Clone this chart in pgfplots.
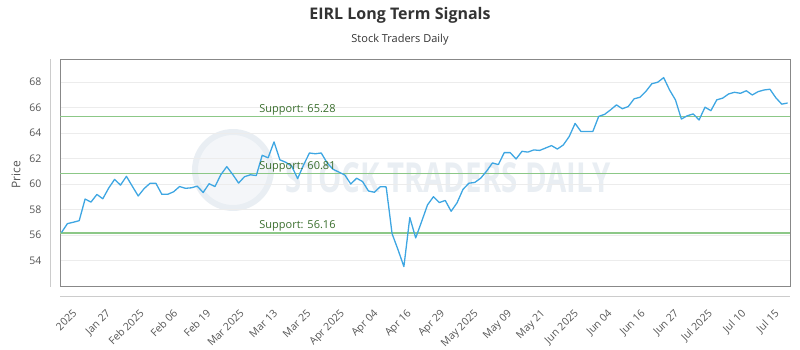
\documentclass[border=0pt]{standalone}
\usepackage{fontspec}
\setmainfont{Open Sans}
\usepackage{graphicx}
\usepackage{pgfplots}
\usepackage{pgfplotstable}
\pgfplotsset{compat=1.18}

\definecolor{priceblue}{RGB}{62,166,226}
\definecolor{supgreen}{RGB}{140,200,135}
\definecolor{suptext}{RGB}{58,110,45}
\definecolor{gridgray}{RGB}{236,236,236}
\definecolor{framegray}{RGB}{136,136,136}
\definecolor{axisgray}{RGB}{204,204,204}
\definecolor{ticktext}{RGB}{85,85,85}
\definecolor{titletext}{RGB}{51,51,51}
\definecolor{wmark}{RGB}{233,238,243}

% daily closes, one row per trading day
\pgfplotstableread{
idx price
0 56.19
1 56.89
2 57.00
3 57.12
4 58.82
5 58.58
6 59.18
7 58.84
8 59.68
9 60.36
10 59.91
11 60.60
12 59.82
13 59.06
14 59.64
15 60.05
16 60.05
17 59.19
18 59.19
19 59.39
20 59.80
21 59.66
22 59.70
23 59.83
24 59.33
25 60.02
26 59.80
27 60.73
28 61.36
29 60.75
30 60.07
31 60.57
32 60.72
33 60.66
34 62.25
35 62.05
36 63.30
37 61.89
38 61.70
39 61.40
40 60.42
41 61.48
42 62.43
43 62.37
44 62.43
45 61.65
46 61.15
47 60.93
48 60.70
49 60.00
50 60.45
51 60.19
52 59.45
53 59.35
54 59.79
55 59.77
56 56.10
57 54.85
58 53.52
59 57.37
60 55.77
61 57.05
62 58.36
63 59.00
64 58.54
65 58.71
66 57.86
67 58.52
68 59.57
69 60.06
70 60.12
71 60.45
72 61.00
73 61.65
74 61.52
75 62.46
76 62.46
77 61.96
78 62.56
79 62.50
80 62.67
81 62.63
82 62.82
83 63.01
84 62.74
85 63.06
86 63.72
87 64.75
88 64.11
89 64.11
90 64.11
91 65.30
92 65.46
93 65.81
94 66.20
95 65.90
96 66.07
97 66.68
98 66.80
99 67.27
100 67.86
101 67.98
102 68.34
103 67.37
104 66.59
105 65.09
106 65.35
107 65.49
108 65.02
109 66.02
110 65.75
111 66.60
112 66.73
113 67.06
114 67.19
115 67.11
116 67.31
117 66.98
118 67.24
119 67.37
120 67.43
121 66.76
122 66.26
123 66.35
}\pricedata

\begin{document}
\begin{tikzpicture}
\useasboundingbox (0,0) rectangle (800pt,350pt);

% faint watermark behind the plot
\fill[wmark, opacity=0.5] (233pt,180pt) circle (40pt);
\draw[wmark, line width=6pt] (233pt,180pt) circle (38pt);
\node[text=wmark, inner sep=0pt] at (448pt,172pt)
  {\resizebox{325pt}{30pt}{\bfseries STOCK TRADERS DAILY}};

\begin{axis}[
    at={(60pt,64pt)}, anchor=south west,
    scale only axis,
    width=730pt, height=227pt,
    xmin=-0.25, xmax=123.4,
    ymin=52, ymax=69.8,
    ytick={54,56,...,68},
    xtick={3.32,8.98,14.65,20.31,25.97,31.63,37.29,42.95,48.62,54.28,59.94,
           65.60,71.26,76.93,82.59,88.25,93.91,99.57,105.24,110.90,116.56,122.22},
    xticklabels={2025, Jan 27, Feb 2025, Feb 06, Feb 19, Mar 2025, Mar 13, Mar 25,
                 Apr 2025, Apr 04, Apr 16, Apr 29, May 2025, May 09, May 21,
                 Jun 2025, Jun 04, Jun 16, Jun 27, Jul 2025, Jul 10, Jul 15},
    major tick length=0pt,
    ymajorgrids=true,
    major grid style={gridgray, line width=0.6pt},
    axis line style={framegray, line width=0.7pt},
    /pgf/number format/assume math mode=true,
    tick label style={text=ticktext, font=\fontsize{10.5}{12}\selectfont},
    yticklabel style={xshift=-15pt},
    xticklabel style={xshift=-9pt, yshift=-21pt, rotate=45, anchor=north east, inner sep=1pt},
]
\addplot[supgreen, line width=1.6pt] coordinates {(-0.25,65.28) (123.4,65.28)};
\addplot[supgreen, line width=1.6pt] coordinates {(-0.25,60.81) (123.4,60.81)};
\addplot[supgreen, line width=1.6pt] coordinates {(-0.25,56.16) (123.4,56.16)};

\addplot[priceblue, line width=1.3pt, line join=round] table[x=idx, y=price]{\pricedata};

\node[suptext, anchor=base west, inner sep=0pt, yshift=4.5pt,
      font=\fontsize{11}{13}\selectfont] at (axis cs:33.5,65.28) {Support: 65.28};
\node[suptext, anchor=base west, inner sep=0pt, yshift=4.5pt,
      font=\fontsize{11}{13}\selectfont] at (axis cs:33.5,60.81) {Support: 60.81};
\node[suptext, anchor=base west, inner sep=0pt, yshift=4.5pt,
      font=\fontsize{11}{13}\selectfont] at (axis cs:33.5,56.16) {Support: 56.16};
\end{axis}

% offset outer axis lines
\draw[axisgray, line width=0.7pt] (50pt,63pt) -- (50pt,291pt);
\draw[axisgray, line width=0.7pt] (60pt,54pt) -- (790pt,54pt);

\node[text=titletext, font=\bfseries\fontsize{16}{19}\selectfont] at (400pt,335pt) {EIRL Long Term Signals};
\node[text=titletext, font=\fontsize{11}{13}\selectfont] at (400pt,310pt) {Stock Traders Daily};
\node[text=ticktext, rotate=90, font=\fontsize{12}{14}\selectfont] at (16pt,175pt) {Price};
\end{tikzpicture}
\end{document}
